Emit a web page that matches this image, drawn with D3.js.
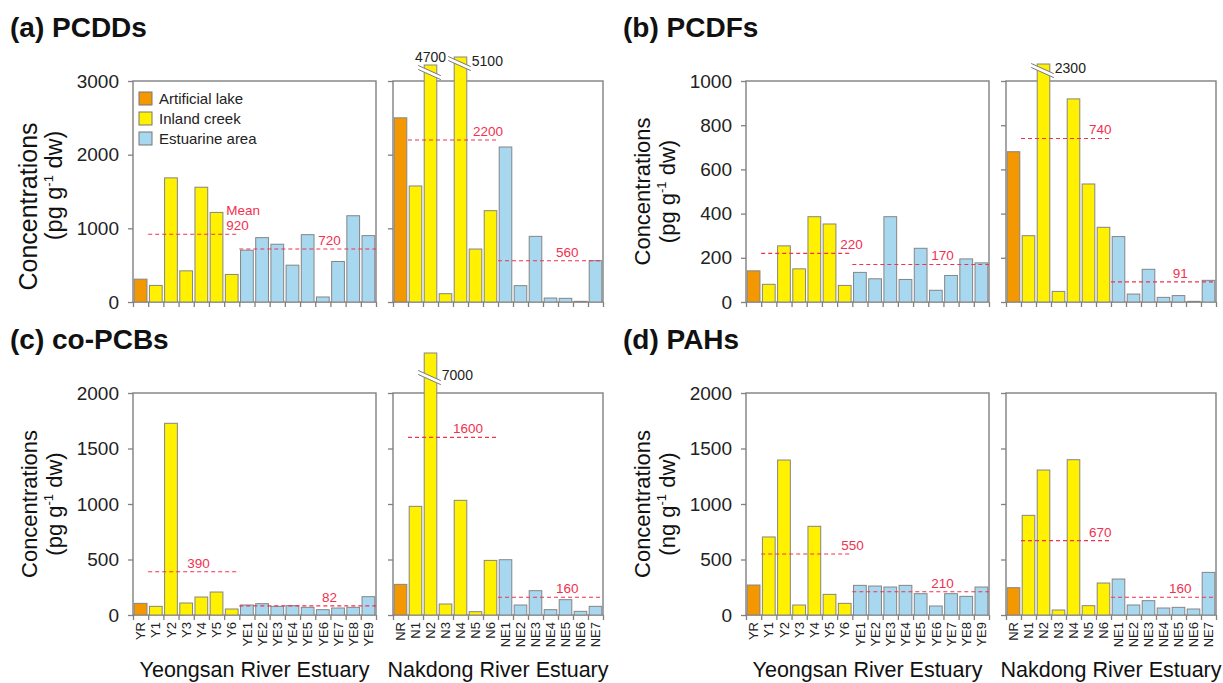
<!DOCTYPE html>
<html>
<head>
<meta charset="utf-8">
<script src="https://cdn.jsdelivr.net/npm/d3@7"></script>
<style>
  body { margin: 0; background: #fff; }
  svg { display: block; font-family: "Liberation Sans", Arial, sans-serif; }
</style>
</head>
<body>
<div id="chart"></div>
<script>
// data
const yeongsanSites = ["YR","Y1","Y2","Y3","Y4","Y5","Y6","YE1","YE2","YE3","YE4","YE5","YE6","YE7","YE8","YE9"];
const yeongsanTypes = ["lake","creek","creek","creek","creek","creek","creek",
  "estuary","estuary","estuary","estuary","estuary","estuary","estuary","estuary","estuary"];
const nakdongSites = ["NR","N1","N2","N3","N4","N5","N6","NE1","NE2","NE3","NE4","NE5","NE6","NE7"];
const nakdongTypes = ["lake","creek","creek","creek","creek","creek","creek",
  "estuary","estuary","estuary","estuary","estuary","estuary","estuary"];

const typeKeys = ["lake","creek","estuary"];
const typeNames = ["Artificial lake","Inland creek","Estuarine area"];

// PCDDs (pg/g dw)
const pcddsY = [310,225,1685,423,1558,1216,374,703,874,784,500,914,68,550,1171,901];
const pcddsN = [2500,1575,4700,113,5100,719,1240,2104,222,891,54,50,9,561];
const pcddsMeansY = [920,720];
const pcddsMeansN = [2200,560];
// PCDFs (pg/g dw)
const pcdfsY = [141,80,254,150,386,353,75,134,105,386,102,243,53,120,195,177];
const pcdfsN = [680,300,2300,48,919,534,338,296,36,148,21,29,3,98];
const pcdfsMeansY = [220,170];
const pcdfsMeansN = [740,91];
// co-PCBs (pg/g dw)
const pcbsY = [105,78,1727,108,162,207,54,90,102,78,84,69,48,63,69,165];
const pcbsN = [276,979,7000,99,1033,30,492,498,90,219,48,138,33,78];
const pcbsMeansY = [390,82];
const pcbsMeansN = [1600,160];
// PAHs (ng/g dw)
const pahsY = [270,703,1396,90,799,186,105,267,261,252,267,192,81,192,168,252];
const pahsN = [246,898,1306,45,1399,84,288,324,90,129,63,69,54,384];
const pahsMeansY = [550,210];
const pahsMeansN = [670,160];

// config
const width = 1223;
const height = 683;
const colors = { lake: "#f39800", creek: "#fff100", estuary: "#a8d8ef" };
const axisCol = "#808080";
const meanCol = "#f2304f";

const panels = [
  { tag: "(a) PCDDs", ox: 0, top: 81, h: 221, yMax: 3000, yStep: 1000, unit: "pg", xLabels: false, legend: true,
    yData: pcddsY, yMeans: pcddsMeansY, nData: pcddsN, nMeans: pcddsMeansN, labelDx: [-13, -25],
    titleFont: [25, 23.5], titleShift: [15, -6],
    breaks: { N2: { over: 16, cut: 8, place: "above" }, N4: { over: 24, cut: 7, place: "right" } } },
  { tag: "(b) PCDFs", ox: 613, top: 81, h: 221, yMax: 1000, yStep: 200, unit: "pg", xLabels: false,
    yData: pcdfsY, yMeans: pcdfsMeansY, nData: pcdfsN, nMeans: pcdfsMeansN, labelDx: [-12, -22],
    titleFont: [22, 22], titleShift: [0, 0],
    breaks: { N2: { over: 17, cut: 7, place: "right" } } },
  { tag: "(c) co-PCBs", ox: 0, top: 393, h: 222, yMax: 2000, yStep: 500, unit: "pg", xLabels: true,
    yData: pcbsY, yMeans: pcbsMeansY, nData: pcbsN, nMeans: pcbsMeansN, labelDx: [-52, -45],
    titleFont: [22, 22], titleShift: [0, 0],
    breaks: { N2: { over: 40, cut: 25, place: "right" } } },
  { tag: "(d) PAHs", ox: 613, top: 393, h: 222, yMax: 2000, yStep: 500, unit: "ng", xLabels: true,
    yData: pahsY, yMeans: pahsMeansY, nData: pahsN, nMeans: pahsMeansN, labelDx: [-11, -22],
    titleFont: [22, 22], titleShift: [0, 0],
    breaks: {} }
];

const svg = d3.select("#chart").append("svg")
  .attr("width", width)
  .attr("height", height)
  .style("background-color", "white");

const drawHalf = (p, sites, types, values, means, x0, w, isLeft, labelDx, groupName) => {
  const y = d3.scaleLinear().domain([0, p.yMax]).range([p.top + p.h, p.top]);
  const x = d3.scaleBand().domain(sites).range([x0, x0 + w]).paddingInner(0.16).paddingOuter(0.08);
  const xi = d3.scaleLinear().domain([0, sites.length]).range([x0, x0 + w]);
  const g = svg.append("g");
  const bottom = p.top + p.h;

  // frame
  g.append("rect")
    .attr("x", x0).attr("y", p.top)
    .attr("width", w).attr("height", p.h)
    .attr("fill", "none")
    .attr("stroke", axisCol)
    .attr("stroke-width", 1.4);

  // y axis ticks
  const ya = g.append("g")
    .attr("transform", `translate(${x0},0)`)
    .call(d3.axisLeft(y)
      .tickValues(d3.range(0, p.yMax + 1, p.yStep))
      .tickSize(5).tickPadding(9)
      .tickFormat(isLeft ? d3.format("d") : ""));
  ya.select(".domain").remove();
  ya.selectAll("line").attr("stroke", axisCol).attr("stroke-width", 1.3);
  ya.selectAll("text").attr("font-size", 19).attr("fill", "#222").attr("font-family", "Liberation Sans, Arial, sans-serif");

  // x axis ticks at category boundaries
  const xa = g.append("g")
    .attr("transform", `translate(0,${bottom})`)
    .call(d3.axisBottom(xi).tickValues(d3.range(sites.length + 1)).tickSize(5).tickFormat(""));
  xa.select(".domain").remove();
  xa.selectAll("line").attr("stroke", axisCol).attr("stroke-width", 1.3);

  if (p.xLabels) {
    const xl = g.append("g")
      .attr("transform", `translate(0,${bottom})`)
      .call(d3.axisBottom(x).tickSize(0));
    xl.select(".domain").remove();
    xl.selectAll("text")
      .attr("transform", "rotate(-90)")
      .attr("text-anchor", "end")
      .attr("x", -7).attr("y", 0).attr("dy", "0.36em")
      .attr("font-size", 13).attr("fill", "#222")
      .attr("font-family", "Liberation Sans, Arial, sans-serif");

    g.append("text")
      .attr("x", x0 + w / 2).attr("y", bottom + 62)
      .attr("text-anchor", "middle")
      .attr("font-size", 21.5).attr("fill", "#111")
      .text(groupName);
  }

  // bars
  const rows = sites.map((s, i) => ({ site: s, type: types[i], v: values[i] }));
  const barTop = d => d.v > p.yMax ? y(p.yMax) - p.breaks[d.site].over : y(d.v);
  g.selectAll("rect.bar")
    .data(rows)
    .enter().append("rect")
    .attr("class", "bar")
    .attr("x", d => x(d.site))
    .attr("width", x.bandwidth())
    .attr("y", barTop)
    .attr("height", d => bottom - barTop(d))
    .attr("fill", d => colors[d.type])
    .attr("stroke", "#858585")
    .attr("stroke-width", 1);

  // axis breaks for off-scale bars
  rows.filter(d => d.v > p.yMax).forEach(d => {
    const b = p.breaks[d.site];
    const bl = x(d.site), br = bl + x.bandwidth(), cx = (bl + br) / 2;
    const cy = barTop(d) + b.cut;
    const xl = bl - 6, xr = br + 4, k = 0.45;
    const yl = cy - k * (cx - xl), yr = cy + k * (xr - cx);
    g.append("path")
      .attr("d", `M${xl},${yl - 2}L${xr},${yr - 2}L${xr},${yr + 2}L${xl},${yl + 2}Z`)
      .attr("fill", "white");
    [-2, 2].forEach(o => {
      g.append("line")
        .attr("x1", xl).attr("y1", yl + o).attr("x2", xr).attr("y2", yr + o)
        .attr("stroke", "#7a7a7a").attr("stroke-width", 1);
    });
    const t = g.append("text")
      .attr("font-size", 14).attr("fill", "#222")
      .text(d3.format("d")(d.v));
    if (b.place === "above") {
      t.attr("x", cx).attr("y", barTop(d) - 3).attr("text-anchor", "middle");
    } else {
      t.attr("x", br + 5).attr("y", cy + 2).attr("text-anchor", "start");
    }
  });

  // mean lines
  const creekIdx = types.map((t, i) => t === "creek" ? i : -1).filter(i => i >= 0);
  const estIdx = types.map((t, i) => t === "estuary" ? i : -1).filter(i => i >= 0);
  const spans = [
    [xi(d3.min(creekIdx)), xi(d3.max(creekIdx) + 1)],
    [xi(d3.min(estIdx)), xi(d3.max(estIdx) + 1)]
  ];
  means.forEach((m, k) => {
    const [a, b] = spans[k];
    g.append("line")
      .attr("x1", a).attr("x2", b)
      .attr("y1", y(m)).attr("y2", y(m))
      .attr("stroke", meanCol)
      .attr("stroke-width", 1.1)
      .attr("stroke-dasharray", "4,3");
    const lbl = g.append("text")
      .attr("fill", meanCol)
      .attr("font-size", 13.5)
      .attr("y", y(m) - 4);
    if (k === 0) {
      lbl.attr("x", b + labelDx).attr("text-anchor", "start").text(m);
      if (p.legend && isLeft) {
        g.append("text")
          .attr("fill", meanCol).attr("font-size", 13.5)
          .attr("x", b + labelDx).attr("y", y(m) - 19)
          .text("Mean");
      }
    } else {
      lbl.attr("x", a + (b - a) * 0.66).attr("text-anchor", "middle").text(m);
    }
  });

  // y axis title
  if (isLeft) {
    const cyT = p.top + p.h / 2;
    g.append("text")
      .attr("transform", `translate(${x0 - 96},${cyT + p.titleShift[0]}) rotate(-90)`)
      .attr("text-anchor", "middle")
      .attr("font-size", p.titleFont[0]).attr("fill", "#111")
      .text("Concentrations");
    const t2 = g.append("text")
      .attr("transform", `translate(${x0 - 71},${cyT + p.titleShift[1]}) rotate(-90)`)
      .attr("text-anchor", "middle")
      .attr("font-size", p.titleFont[1]).attr("fill", "#111");
    t2.append("tspan").text(`(${p.unit} g`);
    t2.append("tspan").attr("font-size", 13).attr("dy", -9).text("-1");
    t2.append("tspan").attr("dy", 9).text(" dw)");
  }

  // legend
  if (p.legend && isLeft) {
    const lg = g.append("g").attr("transform", `translate(${x0 + 6},${p.top + 11})`);
    typeKeys.forEach((k, i) => {
      lg.append("rect")
        .attr("x", 0).attr("y", i * 20)
        .attr("width", 13).attr("height", 13)
        .attr("fill", colors[k]).attr("stroke", "#777").attr("stroke-width", 1);
      lg.append("text")
        .attr("x", 20).attr("y", i * 20 + 11.5)
        .attr("font-size", 15).attr("fill", "#222")
        .text(typeNames[i]);
    });
  }
};

panels.forEach(p => {
  svg.append("text")
    .attr("x", p.ox + 10).attr("y", p.top - 44)
    .attr("font-size", 28).attr("font-weight", "bold").attr("fill", "#111")
    .text(p.tag);
  drawHalf(p, yeongsanSites, yeongsanTypes, p.yData, p.yMeans, p.ox + 133, 243, true, p.labelDx[0], "Yeongsan River Estuary");
  drawHalf(p, nakdongSites, nakdongTypes, p.nData, p.nMeans, p.ox + 393, 210, false, p.labelDx[1], "Nakdong River Estuary");
});
</script>
</body>
</html>
